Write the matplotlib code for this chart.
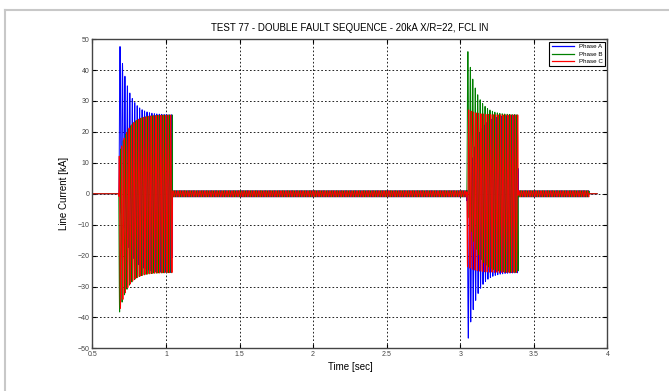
import numpy as np
import matplotlib.pyplot as plt
from matplotlib.lines import Line2D

plt.rcParams["font.family"] = ["Liberation Sans", "DejaVu Sans"]
plt.rcParams["path.simplify"] = False

# test record: times in s, currents in kA
phases = ["Phase A", "Phase B", "Phase C"]
colors = ["#0000ff", "#008000", "#ff0000"]
fault_on = [0.68, 3.045]
fault_off = [1.045, 3.393]
inception_deg = [-90.0, 62.0]          # phase A angle at fault inception
dc_offset = [[25.5, -14.0, -14.0],     # first fault, per phase
             [-25.0, 23.0, 2.0]]       # second fault, per phase
steady_peak = 25.5
load_peak = 1.0
load_on = 1.045
load_off = 3.875
record_start = 0.5
record_end = 3.93
freq = 60.0
x_over_r = 22.0

w = 2 * np.pi * freq
tau = x_over_r / w
t = np.arange(record_start, record_end, 5e-5)

currents = []
for k in range(3):
    shift = k * 2 * np.pi / 3
    i = np.zeros_like(t)
    m = (t >= load_on) & (t < load_off)
    i[m] = load_peak * np.sin(w * t[m] - shift)
    for j in range(2):
        m = (t >= fault_on[j]) & (t < fault_off[j])
        s = t[m] - fault_on[j]
        phi = np.radians(inception_deg[j]) - shift
        i[m] = steady_peak * np.sin(w * s + phi) + dc_offset[j][k] * np.exp(-s / tau)
    currents.append(i)

fig = plt.figure(figsize=(6.69, 3.91), dpi=100)
ax = fig.add_axes([0.138, 0.109, 0.770, 0.791])

for i, name, c in zip(currents, phases, colors):
    ax.plot(t, i, color=c, lw=0.7, label=name)

ax.set_xlim(0.5, 4)
ax.set_ylim(-50, 50)
ax.set_xticks(np.arange(0.5, 4.01, 0.5))
ax.set_xticklabels(["0.5", "1", "1.5", "2", "2.5", "3", "3.5", "4"])
ax.set_yticks(np.arange(-50, 51, 10))
ax.grid(True, color="black", linestyle=(0, (2, 2.5)), linewidth=0.6)
ax.tick_params(direction="in", length=3, width=0.8, labelsize=5,
               labelcolor="#444444", top=True, right=True, pad=2)
for sp in ax.spines.values():
    sp.set_color("#444444")
    sp.set_linewidth(1.0)

ax.set_title("TEST 77 - DOUBLE FAULT SEQUENCE - 20kA X/R=22, FCL IN",
             fontsize=7, pad=6)
ax.set_xlabel("Time [sec]", fontsize=7, labelpad=3)
ax.set_ylabel("Line Current [kA]", fontsize=7, labelpad=6)

leg = ax.legend(loc="upper right", fontsize=4.5, fancybox=False,
                framealpha=1, edgecolor="black", handlelength=3.5,
                borderaxespad=0.4, labelspacing=0.3, borderpad=0.4)
leg.get_frame().set_linewidth(0.8)
for h in leg.get_lines():
    h.set_linewidth(0.9)

# light frame along the top and left edges
fig.lines.append(Line2D([5 / 669, 1], [1 - 10 / 391] * 2,
                        transform=fig.transFigure, color="#c8c8c8", lw=1.5))
fig.lines.append(Line2D([5 / 669] * 2, [0, 1 - 10 / 391],
                        transform=fig.transFigure, color="#c8c8c8", lw=1.5))

fig.savefig("out.png", dpi=100)
